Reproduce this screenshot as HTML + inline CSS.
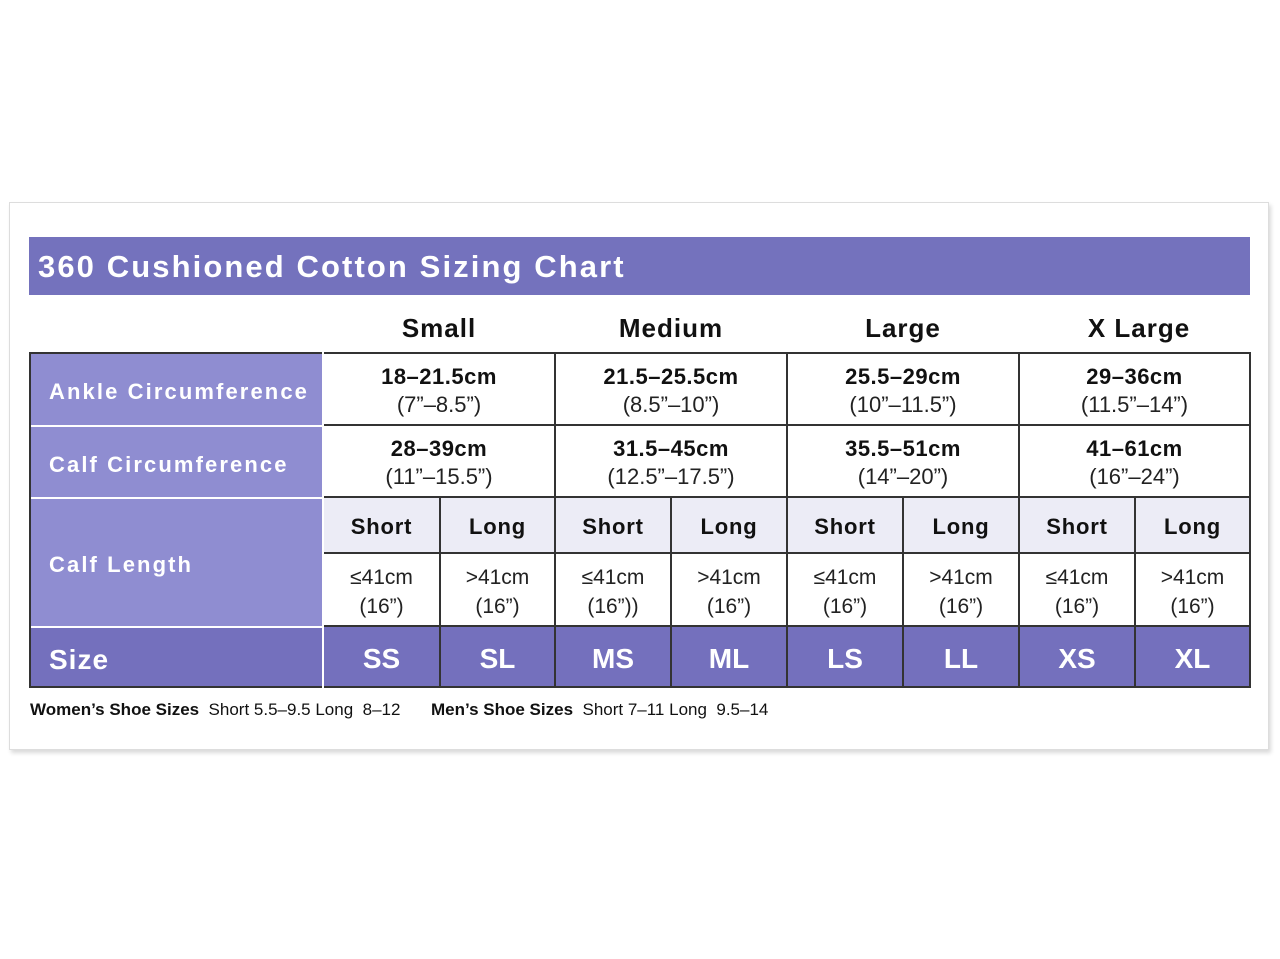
<!DOCTYPE html><html><head><style>
body{margin:0;width:1280px;height:959px;background:#fff;position:relative;font-family:"Liberation Sans",sans-serif;overflow:hidden}
div{position:absolute;box-sizing:border-box}
.c{display:flex;align-items:center;justify-content:center;text-align:center;flex-direction:column;color:#111}
.h{height:1.6px;background:#333}
.v{width:1.6px;background:#333}
.lab{color:#fff;font-weight:bold;font-size:22px;padding-left:20px;padding-top:6px;display:flex;align-items:center;letter-spacing:2.1px}
.b{font-weight:bold;font-size:22px;line-height:28px;letter-spacing:.5px}
.n{font-size:22px;line-height:28px;color:#222}
.sl{font-weight:bold;font-size:22px;background:#ececf6;letter-spacing:.8px;padding-top:4px}
.sz{font-weight:bold;font-size:28px;color:#fff;background:#7470bd;padding-top:4px}
.val{font-size:21px;line-height:29px;color:#222;padding-top:4px}
</style></head><body>
<div style="left:9px;top:202px;width:1260px;height:548px;border:1px solid #ddd;box-shadow:2px 3px 4px rgba(0,0,0,.15)"></div>
<div style="left:29px;top:237px;width:1221px;height:58px;background:#7472bd;color:#fff;font-weight:bold;font-size:31px;padding-left:9px;line-height:60px;letter-spacing:2.1px">360 Cushioned Cotton Sizing Chart</div>
<div class="c b" style="left:323px;top:310px;width:232px;height:36px;font-size:26px;letter-spacing:1px">Small</div>
<div class="c b" style="left:555px;top:310px;width:232px;height:36px;font-size:26px;letter-spacing:1px">Medium</div>
<div class="c b" style="left:787px;top:310px;width:232px;height:36px;font-size:26px;letter-spacing:1px">Large</div>
<div class="c b" style="left:1019px;top:310px;width:240px;height:36px;font-size:26px;letter-spacing:1px">X Large</div>
<div class="lab" style="left:29px;top:353px;width:294px;height:72px;background:#8f8dd1">Ankle Circumference</div>
<div class="lab" style="left:29px;top:426px;width:294px;height:71px;background:#8f8dd1">Calf Circumference</div>
<div class="lab" style="left:29px;top:498px;width:294px;height:128px;background:#8f8dd1">Calf Length</div>
<div class="lab" style="left:29px;top:627px;width:294px;height:60px;background:#7470bd;font-size:28px;letter-spacing:1px">Size</div>
<div style="left:29px;top:425px;width:294px;height:2px;background:#fff"></div>
<div style="left:29px;top:497px;width:294px;height:2px;background:#fff"></div>
<div style="left:29px;top:626px;width:294px;height:2px;background:#fff"></div>

<div class="c" style="left:323px;top:353px;width:232px;height:72px;padding-top:4px"><span class="b">18–21.5cm</span><span class="n">(7”–8.5”)</span></div>
<div class="c" style="left:555px;top:353px;width:232px;height:72px;padding-top:4px"><span class="b">21.5–25.5cm</span><span class="n">(8.5”–10”)</span></div>
<div class="c" style="left:787px;top:353px;width:232px;height:72px;padding-top:4px"><span class="b">25.5–29cm</span><span class="n">(10”–11.5”)</span></div>
<div class="c" style="left:1019px;top:353px;width:231px;height:72px;padding-top:4px"><span class="b">29–36cm</span><span class="n">(11.5”–14”)</span></div>
<div class="c" style="left:323px;top:425px;width:232px;height:72px;padding-top:4px"><span class="b">28–39cm</span><span class="n">(11”–15.5”)</span></div>
<div class="c" style="left:555px;top:425px;width:232px;height:72px;padding-top:4px"><span class="b">31.5–45cm</span><span class="n">(12.5”–17.5”)</span></div>
<div class="c" style="left:787px;top:425px;width:232px;height:72px;padding-top:4px"><span class="b">35.5–51cm</span><span class="n">(14”–20”)</span></div>
<div class="c" style="left:1019px;top:425px;width:231px;height:72px;padding-top:4px"><span class="b">41–61cm</span><span class="n">(16”–24”)</span></div>

<div class="c sl" style="left:323px;top:497px;width:117px;height:56px">Short</div>
<div class="c sl" style="left:440px;top:497px;width:115px;height:56px">Long</div>
<div class="c sl" style="left:555px;top:497px;width:116px;height:56px">Short</div>
<div class="c sl" style="left:671px;top:497px;width:116px;height:56px">Long</div>
<div class="c sl" style="left:787px;top:497px;width:116px;height:56px">Short</div>
<div class="c sl" style="left:903px;top:497px;width:116px;height:56px">Long</div>
<div class="c sl" style="left:1019px;top:497px;width:116px;height:56px">Short</div>
<div class="c sl" style="left:1135px;top:497px;width:115px;height:56px">Long</div>

<div class="c val" style="left:323px;top:553px;width:117px;height:73px"><span>≤41cm</span><span>(16”)</span></div>
<div class="c val" style="left:440px;top:553px;width:115px;height:73px"><span>&gt;41cm</span><span>(16”)</span></div>
<div class="c val" style="left:555px;top:553px;width:116px;height:73px"><span>≤41cm</span><span>(16”))</span></div>
<div class="c val" style="left:671px;top:553px;width:116px;height:73px"><span>&gt;41cm</span><span>(16”)</span></div>
<div class="c val" style="left:787px;top:553px;width:116px;height:73px"><span>≤41cm</span><span>(16”)</span></div>
<div class="c val" style="left:903px;top:553px;width:116px;height:73px"><span>&gt;41cm</span><span>(16”)</span></div>
<div class="c val" style="left:1019px;top:553px;width:116px;height:73px"><span>≤41cm</span><span>(16”)</span></div>
<div class="c val" style="left:1135px;top:553px;width:115px;height:73px"><span>&gt;41cm</span><span>(16”)</span></div>

<div class="c sz" style="left:323px;top:626px;width:117px;height:61px">SS</div>
<div class="c sz" style="left:440px;top:626px;width:115px;height:61px">SL</div>
<div class="c sz" style="left:555px;top:626px;width:116px;height:61px">MS</div>
<div class="c sz" style="left:671px;top:626px;width:116px;height:61px">ML</div>
<div class="c sz" style="left:787px;top:626px;width:116px;height:61px">LS</div>
<div class="c sz" style="left:903px;top:626px;width:116px;height:61px">LL</div>
<div class="c sz" style="left:1019px;top:626px;width:116px;height:61px">XS</div>
<div class="c sz" style="left:1135px;top:626px;width:115px;height:61px">XL</div>

<div class="h" style="left:29px;top:352px;width:1222px"></div>
<div class="h" style="left:323px;top:424px;width:928px"></div>
<div class="h" style="left:323px;top:496px;width:928px"></div>
<div class="h" style="left:323px;top:552px;width:928px"></div>
<div class="h" style="left:323px;top:625px;width:928px"></div>
<div class="h" style="left:29px;top:686px;width:1222px"></div>
<div class="v" style="left:29px;top:352px;height:336px"></div>
<div class="v" style="left:322px;top:352px;height:336px;background:#fff;width:2px"></div>
<div class="v" style="left:554px;top:352px;height:336px"></div>
<div class="v" style="left:786px;top:352px;height:336px"></div>
<div class="v" style="left:1018px;top:352px;height:336px"></div>
<div class="v" style="left:1249px;top:352px;height:336px"></div>
<div class="v" style="left:439px;top:497px;height:190px"></div>
<div class="v" style="left:670px;top:497px;height:190px"></div>
<div class="v" style="left:902px;top:497px;height:190px"></div>
<div class="v" style="left:1134px;top:497px;height:190px"></div>

<div style="left:30px;top:700px;font-size:17px;color:#111;white-space:nowrap"><b>Women’s Shoe Sizes</b>&nbsp; Short 5.5–9.5 Long&nbsp; 8–12</div>
<div style="left:431px;top:700px;font-size:17px;color:#111;white-space:nowrap"><b>Men’s Shoe Sizes</b>&nbsp; Short 7–11 Long&nbsp; 9.5–14</div>
</body></html>
